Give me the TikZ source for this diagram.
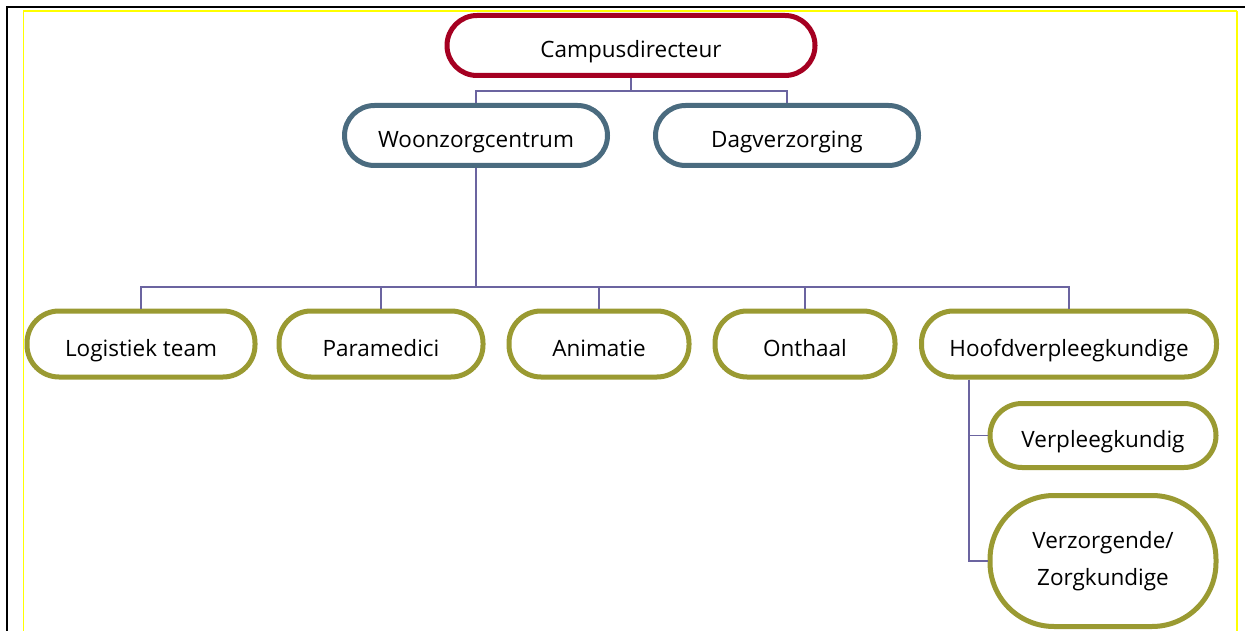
\documentclass[tikz,border=0pt]{standalone}
\usepackage{fontspec}
\setmainfont{Open Sans}
\usetikzlibrary{positioning}
\definecolor{campus-red}{RGB}{165,0,33}
\definecolor{campus-slate}{RGB}{74,107,127}
\definecolor{campus-olive}{RGB}{154,154,50}
\definecolor{campus-line}{RGB}{107,100,160}
\definecolor{campus-yellow}{RGB}{255,255,0}

\begin{document}
\begin{tikzpicture}[x=1pt, y=-1pt,
  unit/.style={draw, line width=5pt, fill=white, align=center, inner sep=0pt, font=\fontsize{22.5}{37}\selectfont},
  oneline/.style={text height=24pt, text depth=0pt},
  headunit/.style={unit, oneline, draw=campus-red, rounded corners=30pt, minimum width=368pt, minimum height=60pt},
  siteunit/.style={unit, oneline, draw=campus-slate, rounded corners=30pt, minimum width=263pt, minimum height=60pt},
  teamunit/.style={unit, draw=campus-olive, rounded corners=32pt, minimum height=66pt},
  link/.style={draw=campus-line, line width=1.4pt},
]
  \useasboundingbox (0,0) rectangle (1245,631);

  % Outer frame
  \draw[line width=2pt] (7,631) -- (7,7) -- (1245,7);
  \draw[campus-yellow, line width=2pt] (23,11) -- (1237,11);
  \draw[campus-yellow, line width=1pt] (23,11) -- (23,631);
  \draw[campus-yellow, line width=1.6pt] (1237,11) -- (1237,631);

  % Top level
  \node[headunit] (campus) at (631,45.5) {Campusdirecteur};

  % Sites
  \node[siteunit] (woon) at (476,135.5) {Woonzorgcentrum};
  \node[siteunit] (dag) at (787,135.5) {Dagverzorging};

  % Teams
  \node[teamunit, oneline, minimum width=228pt] (logistiek) at (141,344) {Logistiek team};
  \node[teamunit, oneline, minimum width=204pt] (para) at (381,344) {Paramedici};
  \node[teamunit, oneline, minimum width=180pt] (animatie) at (599,344) {Animatie};
  \node[teamunit, oneline, minimum width=180pt] (onthaal) at (805,344) {Onthaal};
  \node[teamunit, oneline, minimum width=295pt] (hoofd) at (1069,344) {Hoofdverpleegkundige};

  % Nursing
  \node[teamunit, oneline, minimum width=226pt, minimum height=64pt] (verpl) at (1103,435.5) {Verpleegkundig};
  \node[teamunit, minimum width=226pt, minimum height=131pt, rounded corners=64pt] (verz) at (1103,561) {Verzorgende/\\Zorgkundige};

  % Connectors
  \draw[link] (campus.south) -- ++(0,13) -| (woon.north);
  \draw[link] (campus.south) -- ++(0,13) -| (dag.north);
  \draw[link, line width=2.6pt] (woon.south) -- ++(0,119) coordinate (bar);
  \foreach \team in {logistiek, para, animatie, onthaal, hoofd}
    \draw[link] (bar) -| (\team.north);
  \draw[link] ([xshift=-100pt]hoofd.south) |- (verpl.west);
  \draw[link] ([xshift=-100pt]hoofd.south) |- (verz.west);
\end{tikzpicture}
\end{document}
